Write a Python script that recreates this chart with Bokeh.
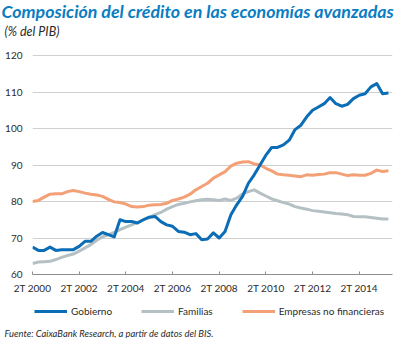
from bokeh.plotting import figure
from bokeh.layouts import column
from bokeh.models import Legend, LegendItem, Title, FixedTicker, Range1d, ColumnDataSource
from bokeh.embed import file_html
from bokeh.resources import INLINE

# ---- data ----
quarters = [f"{q}T {y}" for y in range(2000, 2016) for q in (1, 2, 3, 4)][1:63]  # 2T 2000 .. 3T 2015

gobierno = [67.5, 66.6, 66.6, 67.5, 66.6, 66.8, 66.8, 66.8, 67.7, 69.1,
            69.1, 70.5, 71.5, 70.9, 70.3, 75.0, 74.5, 74.5, 74.1, 75.0,
            75.7, 75.9, 74.5, 73.6, 73.2, 71.8, 71.6, 70.9, 71.2, 69.5,
            69.7, 71.4, 70.0, 71.8, 76.4, 79.1, 81.4, 85.0, 87.3, 90.0,
            92.7, 94.8, 94.8, 95.5, 96.8, 99.7, 100.9, 103.2, 105.0, 105.9,
            106.8, 108.5, 106.8, 106.1, 106.6, 108.2, 109.1, 109.5, 111.4, 112.3,
            109.5, 109.7]

familias = [63.0, 63.4, 63.5, 63.6, 64.1, 64.7, 65.2, 65.6, 66.4, 67.3,
            68.2, 69.4, 70.3, 70.9, 71.5, 72.3, 73.0, 73.6, 74.3, 75.0,
            75.6, 76.4, 77.0, 77.9, 78.6, 79.2, 79.5, 79.9, 80.2, 80.5,
            80.6, 80.5, 80.3, 80.7, 80.3, 80.9, 82.1, 82.7, 83.2, 82.3,
            81.5, 80.7, 80.2, 79.7, 79.3, 78.6, 78.2, 77.9, 77.5, 77.3,
            77.1, 76.9, 76.7, 76.6, 76.4, 75.9, 75.8, 75.8, 75.6, 75.4,
            75.2, 75.2]

empresas = [80.0, 80.3, 81.2, 82.0, 82.1, 82.1, 82.7, 83.0, 82.7, 82.3,
            82.0, 81.8, 81.4, 80.6, 79.9, 79.7, 79.3, 78.6, 78.5, 78.6,
            79.0, 79.1, 79.2, 79.5, 80.3, 80.7, 81.2, 82.0, 83.2, 84.1,
            85.0, 86.4, 87.3, 88.2, 89.7, 90.5, 90.8, 90.9, 90.3, 90.0,
            89.1, 88.4, 87.5, 87.3, 87.2, 87.0, 86.8, 87.3, 87.2, 87.4,
            87.5, 87.9, 87.9, 87.5, 87.1, 87.3, 87.2, 87.2, 87.7, 88.6,
            88.2, 88.4]

series_names = ["Gobierno", "Familias", "Empresas no financieras"]
tick_labels = ["2T 2000", "2T 2002", "2T 2004", "2T 2006", "2T 2008", "2T 2010", "2T 2012", "2T 2014"]
y_ticks = [60, 70, 80, 90, 100, 110, 120]

title_text = "Composición del crédito en las economías avanzadas"
subtitle_text = "(% del PIB)"
source_text = "Fuente: CaixaBank Research, a partir de datos del BIS."

# ---- styling ----
FONT = "Lato"
C_GOB = "#0b6db6"
C_FAM = "#b5c0c4"
C_EMP = "#f4a077"
C_TITLE = "#0b7dc2"
C_TEXT = "#2b2b2b"
W = 399
TOP, BOTTOM, FRAME_H = 42, 22, 232          # frame starts above the 120 gridline
PX_PER_UNIT = 219 / 60                      # 60..120 spans 219 px
Y_TOP = 60 + FRAME_H / PX_PER_UNIT

# ---- main chart ----
xs = list(range(len(quarters)))
src = ColumnDataSource(dict(x=xs, q=quarters, gob=gobierno, fam=familias, emp=empresas))

p = figure(width=W, height=TOP + FRAME_H + BOTTOM, output_backend="svg", toolbar_location=None,
           title=None, x_range=Range1d(0, 61.7), y_range=Range1d(60, Y_TOP),
           min_border_left=32, min_border_right=7, min_border_top=TOP, min_border_bottom=BOTTOM)
p.outline_line_color = None
p.background_fill_color = "white"
p.border_fill_color = "white"

p.xgrid.grid_line_color = None
p.ygrid.grid_line_color = "#cfcfcf"
p.ygrid.grid_line_width = 1

p.yaxis.ticker = FixedTicker(ticks=y_ticks)
p.yaxis.axis_line_color = None
p.yaxis.major_tick_line_color = None
p.yaxis.minor_tick_line_color = None
p.yaxis.major_tick_out = 0
p.yaxis.major_tick_in = 0
p.yaxis.major_label_standoff = 10
p.yaxis.major_label_text_font = FONT
p.yaxis.major_label_text_font_size = "10px"
p.yaxis.major_label_text_color = C_TEXT

tick_pos = [quarters.index(t) for t in tick_labels]
p.xaxis.ticker = FixedTicker(ticks=tick_pos)
p.xaxis.major_label_overrides = {tp: lab for tp, lab in zip(tick_pos, tick_labels)}
p.xaxis.axis_line_color = "#8c8c8c"
p.xaxis.axis_line_width = 1
p.xaxis.major_tick_line_color = "#8c8c8c"
p.xaxis.major_tick_in = 3
p.xaxis.major_tick_out = 0
p.xaxis.minor_tick_line_color = None
p.xaxis.major_label_standoff = 7
p.xaxis.major_label_text_font = FONT
p.xaxis.major_label_text_font_size = "10px"
p.xaxis.major_label_text_color = C_TEXT

p.line("x", "fam", source=src, line_color=C_FAM, line_width=3, line_join="round")
p.line("x", "emp", source=src, line_color=C_EMP, line_width=3, line_join="round")
p.line("x", "gob", source=src, line_color=C_GOB, line_width=3, line_join="round")

p.add_layout(Title(text=subtitle_text, align="left", offset=-28, standoff=8,
                   text_font=FONT, text_font_size="12.5px", text_font_style="italic",
                   text_color=C_TEXT), "above")
p.add_layout(Title(text=title_text, align="left", offset=-31, standoff=-8,
                   text_font=FONT, text_font_size="17.8px", text_font_style="bold italic",
                   text_color=C_TITLE), "above")

# ---- footer (legend + source) ----
p_foot = figure(width=W, height=42, output_backend="svg", toolbar_location=None, title=None,
                x_range=Range1d(0, 1), y_range=Range1d(0, 1),
                x_axis_type=None, y_axis_type=None,
                min_border_left=32, min_border_right=7, min_border_top=0, min_border_bottom=0)
p_foot.outline_line_color = None
p_foot.xgrid.visible = False
p_foot.ygrid.visible = False
p_foot.background_fill_color = "white"
p_foot.border_fill_color = "white"

nan = float("nan")
items = []
for name, col in zip(series_names, [C_GOB, C_FAM, C_EMP]):
    r = p_foot.line(x=[nan], y=[nan], line_color=col, line_width=3)
    items.append(LegendItem(label=name, renderers=[r]))
legend = Legend(items=items, orientation="horizontal", location="top_left",
                glyph_width=33, glyph_height=26, label_height=26, label_standoff=4, spacing=29,
                padding=0, margin=2, border_line_alpha=0, background_fill_alpha=0,
                label_text_font=FONT, label_text_font_size="10px",
                label_text_color=C_TEXT)
p_foot.add_layout(legend)

p_foot.add_layout(Title(text=source_text, align="left", offset=-28, standoff=0,
                        text_font=FONT, text_font_size="9.4px", text_font_style="italic",
                        text_color=C_TEXT), "below")

layout = column(p, p_foot, spacing=0)
open("out.html", "w").write(file_html(layout, INLINE))
